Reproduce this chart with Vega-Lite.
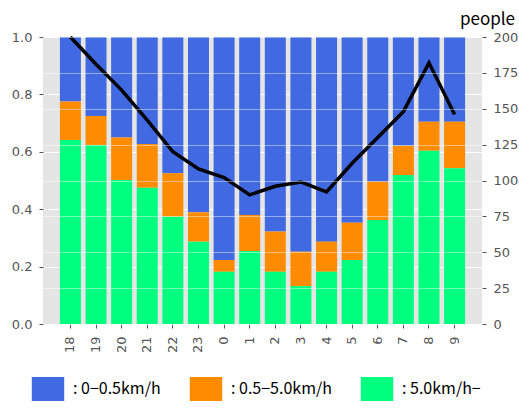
{
  "$schema": "https://vega.github.io/schema/vega-lite/v6.json",
  "width": 439,
  "height": 287,
  "autosize": {"type": "none"},
  "padding": {"left": 43, "top": 37, "right": 37, "bottom": 84},
  "background": "white",
  "config": {
    "view": {"fill": "#E5E5E5", "stroke": null},
    "axis": {
      "labelFont": "DejaVu Sans",
      "labelFontSize": 13,
      "labelColor": "#555555",
      "tickColor": "#555555",
      "tickSize": 4,
      "domain": false
    }
  },
  "datasets": {
    "speed": [
      {"hour": "18", "speed": "0-0.5km/h", "ratio": 0.225},
      {"hour": "18", "speed": "0.5-5.0km/h", "ratio": 0.134},
      {"hour": "18", "speed": "5.0km/h-", "ratio": 0.641},
      {"hour": "19", "speed": "0-0.5km/h", "ratio": 0.275},
      {"hour": "19", "speed": "0.5-5.0km/h", "ratio": 0.101},
      {"hour": "19", "speed": "5.0km/h-", "ratio": 0.624},
      {"hour": "20", "speed": "0-0.5km/h", "ratio": 0.350},
      {"hour": "20", "speed": "0.5-5.0km/h", "ratio": 0.148},
      {"hour": "20", "speed": "5.0km/h-", "ratio": 0.502},
      {"hour": "21", "speed": "0-0.5km/h", "ratio": 0.373},
      {"hour": "21", "speed": "0.5-5.0km/h", "ratio": 0.152},
      {"hour": "21", "speed": "5.0km/h-", "ratio": 0.475},
      {"hour": "22", "speed": "0-0.5km/h", "ratio": 0.475},
      {"hour": "22", "speed": "0.5-5.0km/h", "ratio": 0.151},
      {"hour": "22", "speed": "5.0km/h-", "ratio": 0.374},
      {"hour": "23", "speed": "0-0.5km/h", "ratio": 0.611},
      {"hour": "23", "speed": "0.5-5.0km/h", "ratio": 0.102},
      {"hour": "23", "speed": "5.0km/h-", "ratio": 0.287},
      {"hour": "0", "speed": "0-0.5km/h", "ratio": 0.777},
      {"hour": "0", "speed": "0.5-5.0km/h", "ratio": 0.041},
      {"hour": "0", "speed": "5.0km/h-", "ratio": 0.182},
      {"hour": "1", "speed": "0-0.5km/h", "ratio": 0.620},
      {"hour": "1", "speed": "0.5-5.0km/h", "ratio": 0.126},
      {"hour": "1", "speed": "5.0km/h-", "ratio": 0.254},
      {"hour": "2", "speed": "0-0.5km/h", "ratio": 0.678},
      {"hour": "2", "speed": "0.5-5.0km/h", "ratio": 0.140},
      {"hour": "2", "speed": "5.0km/h-", "ratio": 0.182},
      {"hour": "3", "speed": "0-0.5km/h", "ratio": 0.748},
      {"hour": "3", "speed": "0.5-5.0km/h", "ratio": 0.120},
      {"hour": "3", "speed": "5.0km/h-", "ratio": 0.132},
      {"hour": "4", "speed": "0-0.5km/h", "ratio": 0.713},
      {"hour": "4", "speed": "0.5-5.0km/h", "ratio": 0.105},
      {"hour": "4", "speed": "5.0km/h-", "ratio": 0.182},
      {"hour": "5", "speed": "0-0.5km/h", "ratio": 0.647},
      {"hour": "5", "speed": "0.5-5.0km/h", "ratio": 0.130},
      {"hour": "5", "speed": "5.0km/h-", "ratio": 0.223},
      {"hour": "6", "speed": "0-0.5km/h", "ratio": 0.504},
      {"hour": "6", "speed": "0.5-5.0km/h", "ratio": 0.134},
      {"hour": "6", "speed": "5.0km/h-", "ratio": 0.362},
      {"hour": "7", "speed": "0-0.5km/h", "ratio": 0.379},
      {"hour": "7", "speed": "0.5-5.0km/h", "ratio": 0.102},
      {"hour": "7", "speed": "5.0km/h-", "ratio": 0.519},
      {"hour": "8", "speed": "0-0.5km/h", "ratio": 0.295},
      {"hour": "8", "speed": "0.5-5.0km/h", "ratio": 0.101},
      {"hour": "8", "speed": "5.0km/h-", "ratio": 0.604},
      {"hour": "9", "speed": "0-0.5km/h", "ratio": 0.295},
      {"hour": "9", "speed": "0.5-5.0km/h", "ratio": 0.162},
      {"hour": "9", "speed": "5.0km/h-", "ratio": 0.543}
    ],
    "people": [
      {"hour": "18", "people": 200},
      {"hour": "19", "people": 181},
      {"hour": "20", "people": 163},
      {"hour": "21", "people": 142},
      {"hour": "22", "people": 120},
      {"hour": "23", "people": 108},
      {"hour": "0", "people": 102},
      {"hour": "1", "people": 90},
      {"hour": "2", "people": 96},
      {"hour": "3", "people": 99},
      {"hour": "4", "people": 92},
      {"hour": "5", "people": 112},
      {"hour": "6", "people": 130},
      {"hour": "7", "people": 148},
      {"hour": "8", "people": 182},
      {"hour": "9", "people": 146}
    ]
  },
  "encoding": {
    "x": {
      "field": "hour",
      "type": "nominal",
      "scale": {
        "domain": ["18","19","20","21","22","23","0","1","2","3","4","5","6","7","8","9"],
        "paddingInner": 0.18,
        "paddingOuter": 0.66
      },
      "axis": {"title": null, "labelAngle": 270, "labelPadding": 8, "grid": false}
    }
  },
  "layer": [
    {
      "data": {"name": "speed"},
      "mark": {"type": "bar"},
      "encoding": {
        "y": {
          "field": "ratio",
          "type": "quantitative",
          "stack": "zero",
          "scale": {"domain": [0, 1], "nice": false},
          "axis": {
            "title": null,
            "values": [0, 0.2, 0.4, 0.6, 0.8, 1.0],
            "format": ".1f",
            "labelPadding": 7,
            "grid": true,
            "gridColor": "white",
            "gridWidth": 1
          }
        },
        "color": {
          "field": "speed",
          "type": "nominal",
          "scale": {
            "domain": ["0-0.5km/h", "0.5-5.0km/h", "5.0km/h-"],
            "range": ["#4169E1", "#FF8C00", "#00FF7F"]
          },
          "legend": {
            "title": null,
            "orient": "none",
            "direction": "horizontal",
            "legendX": -7,
            "legendY": 340,
            "padding": 0,
            "symbolType": "M-1.35,-1H1.35V1H-1.35Z",
            "symbolSize": 576,
            "symbolStrokeWidth": 0,
            "symbolOpacity": 1,
            "labelFont": "Noto Sans CJK JP",
            "labelFontSize": 16,
            "labelColor": "black",
            "labelOffset": 13,
            "columnPadding": 28,
            "labelExpr": "': ' + replace(datum.label, '-', '−')"
          }
        },
        "order": {"field": "speed", "sort": "descending"}
      }
    },
    {
      "data": {"name": "people"},
      "mark": {"type": "line", "color": "black", "strokeWidth": 3.5},
      "encoding": {
        "y": {
          "field": "people",
          "type": "quantitative",
          "scale": {"domain": [0, 200], "nice": false},
          "axis": {
            "orient": "right",
            "values": [0, 25, 50, 75, 100, 125, 150, 175, 200],
            "labelPadding": 7,
            "grid": true,
            "gridColor": "white",
            "gridOpacity": 0.45,
            "gridWidth": 1,
            "zindex": 1,
            "title": "people",
            "titleAngle": 0,
            "titleAlign": "center",
            "titleBaseline": "alphabetic",
            "titleX": 5,
            "titleY": -13,
            "titleFont": "Noto Sans CJK JP",
            "titleFontSize": 17,
            "titleFontWeight": "normal",
            "titleColor": "black"
          }
        }
      }
    }
  ],
  "resolve": {"scale": {"y": "independent"}}
}
